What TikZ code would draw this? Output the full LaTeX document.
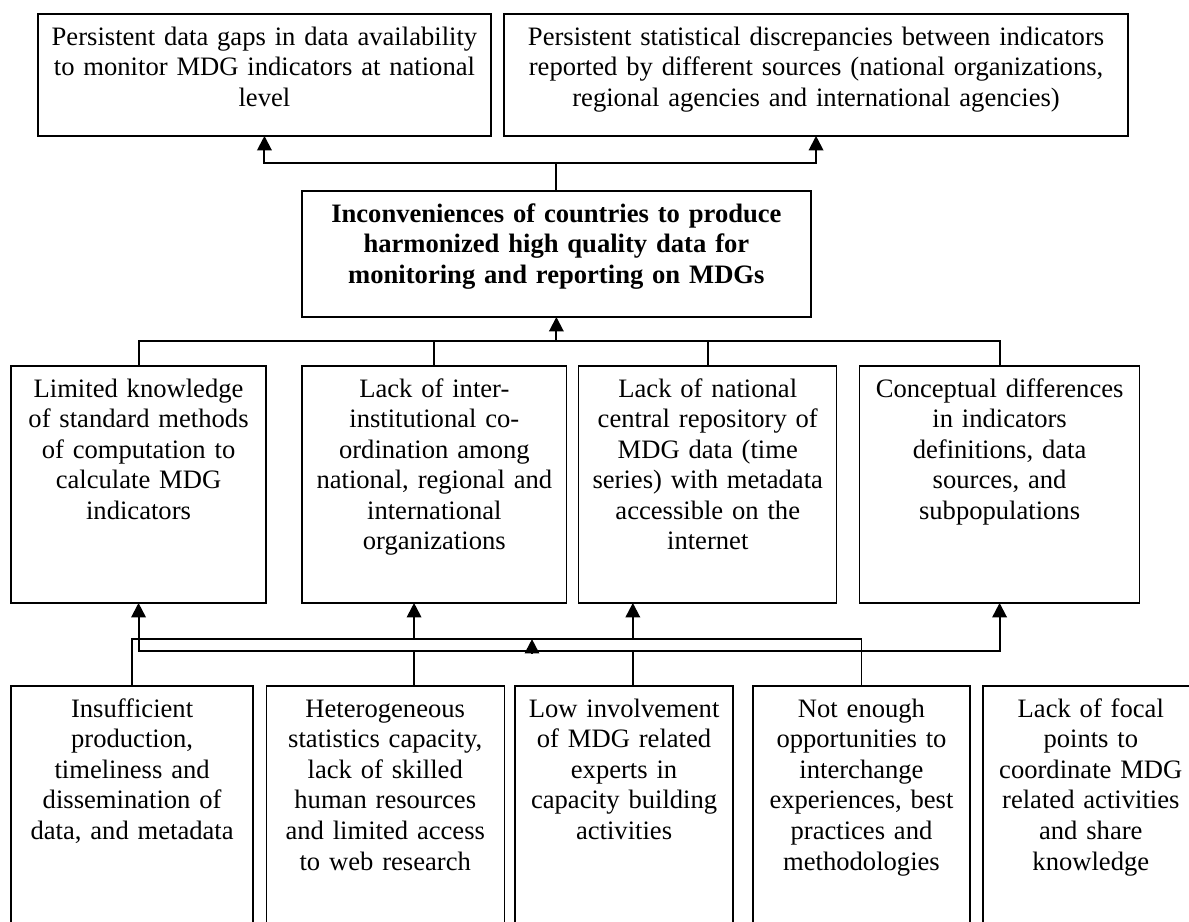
\documentclass[tikz,border=0pt]{standalone}
\usepackage{fontspec}
\setmainfont{Liberation Serif}
\usetikzlibrary{positioning, arrows.meta}

\tikzset{
  box/.style={draw, line width=0.6pt, inner sep=0pt, outer sep=0pt, align=center,
    text height=14pt, font=\fontsize{12}{13.8}\selectfont},
  effect/.style={box, text depth=41pt},
  problem/.style={box, text depth=42.8pt, font=\fontsize{12}{13.8}\selectfont\bfseries},
  cause/.style={box, text depth=92.9pt},
  factor/.style={box, text depth=110pt},
  wire/.style={line width=0.6pt},
  rail/.style={line width=0.9pt},
  link/.style={rail, -{Triangle[width=6.5pt,length=6.5pt]}},
}

\begin{document}
\begin{tikzpicture}

  \useasboundingbox (0,0) rectangle (536.4pt,-415.9pt);
  \clip (0,0) rectangle (536.4pt,-415.9pt);

  % Define nodes
  \node[effect, text width=204.4pt, anchor=north west] (gaps) at (17.1pt,-6.3pt)
    {Persistent data gaps in data availability\\to monitor MDG indicators at national\\level};
  \node[effect, text width=281.5pt, right=5.9pt of gaps] (discr)
    {Persistent statistical discrepancies between indicators\\reported by different sources (national organizations,\\regional agencies and international agencies)};
  \node[problem, text width=229.6pt, anchor=north west] (incon) at (136.2pt,-86.2pt)
    {Inconveniences of countries to produce\\harmonized high quality data for\\monitoring and reporting on MDGs};

  \node[cause, text width=115pt, anchor=north west] (know) at (5pt,-165.1pt)
    {Limited knowledge\\of standard methods\\of computation to\\calculate MDG\\indicators};
  \node[cause, text width=119.5pt, right=16.2pt of know] (coord)
    {Lack of inter-\\institutional co-\\ordination among\\national, regional and\\international\\organizations};
  \node[cause, text width=116.4pt, right=5.4pt of coord] (repo)
    {Lack of national\\central repository of\\MDG data (time\\series) with metadata\\accessible on the\\internet};
  \node[cause, text width=126.3pt, right=10.3pt of repo] (concept)
    {Conceptual differences\\in indicators\\definitions, data\\sources, and\\subpopulations};

  \node[factor, text width=109.2pt, anchor=north west] (prod) at (5pt,-309.5pt)
    {Insufficient\\production,\\timeliness and\\dissemination of\\data, and metadata};
  \node[factor, text width=107.4pt, right=5.9pt of prod] (capac)
    {Heterogeneous\\statistics capacity,\\lack of skilled\\human resources\\and limited access\\to web research};
  \node[factor, text width=98.3pt, right=4.9pt of capac] (involv)
    {Low involvement\\of MDG related\\experts in\\capacity building\\activities};
  \node[factor, text width=97.9pt, right=9pt of involv] (exch)
    {Not enough\\opportunities to\\interchange\\experiences, best\\practices and\\methodologies};
  \node[factor, text width=97.4pt, right=5.8pt of exch] (focal)
    {Lack of focal\\points to\\coordinate MDG\\related activities\\and share\\knowledge};

  % Rails and branch points
  \coordinate (thin) at (0,-288.3pt);
  \coordinate (bold) at (0,-293.7pt);
  \coordinate (xa) at (186.8pt,0);
  \coordinate (xb) at (240pt,0);
  \coordinate (xc) at (285.5pt,0);

  % Connect the nodes
  \draw[link] (incon.north) -- ++(0,12.7pt) coordinate (jt) -| (gaps.south);
  \draw[link] (jt) -| (discr.south);

  \path (incon.south) ++(0,-10.8pt) coordinate (jm);
  \draw[link] (jm) -- (incon.south);
  \draw[rail] (know.north) |- (jm) -| (concept.north);
  \draw[rail] (coord.north) |- (jm);
  \draw[rail] (repo.north) |- (jm);

  \draw[wire] (prod.north) |- (thin -| exch.north) -- (exch.north);
  \draw[link, {Triangle[width=6.5pt,length=6.5pt]}-{Triangle[width=6.5pt,length=6.5pt]}]
    (know.south) |- (bold -| concept.south) -- (concept.south);
  \draw[link] (xa |- thin) -- (xa |- coord.south);
  \draw[link] (xc |- thin) -- (xc |- repo.south);
  \draw[wire] (xa |- capac.north) -- (xa |- bold);
  \draw[wire] (xc |- involv.north) -- (xc |- bold);
  \draw[link] (xb |- bold) ++(0,-1.3pt) -- (xb |- thin);

\end{tikzpicture}
\end{document}
